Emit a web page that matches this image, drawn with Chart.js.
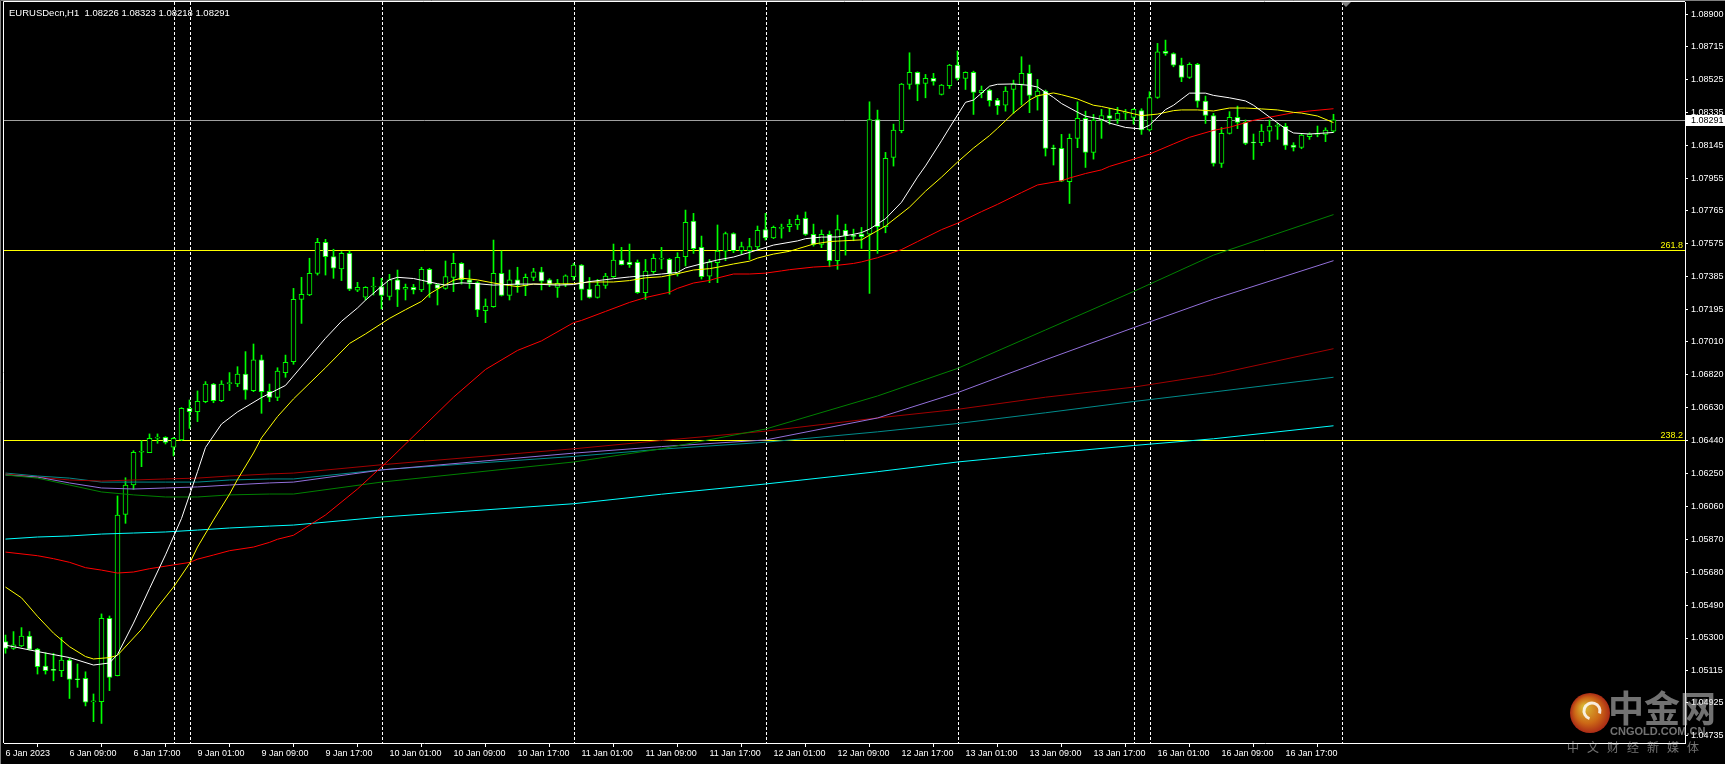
<!DOCTYPE html>
<html><head><meta charset="utf-8">
<script src="https://cdn.jsdelivr.net/npm/chart.js@4.4.0/dist/chart.umd.min.js"></script>
<style>html,body{margin:0;padding:0;background:#000;overflow:hidden}canvas{display:block}</style>
</head><body>
<canvas id="c" width="1725" height="764"></canvas>
<script>
// ---------------- DATA ----------------
const symbolTitle = 'EURUSDecn,H1';
// bar index 0 = 6 Jan 2023 01:00, one bar per hour (H1)
const opens = [1.05279,1.05240,1.05254,1.05311,1.05236,1.05138,1.05115,1.05111,1.05173,1.05063,
1.05067,1.04931,1.04932,1.05414,1.05083,1.06014,1.06183,1.06372,1.06370,1.06454,
1.06458,1.06401,1.06443,1.06626,1.06606,1.06664,1.06766,1.06670,1.06768,1.06766,
1.06824,1.06728,1.06905,1.06724,1.06689,1.06832,1.06895,1.07255,1.07280,1.07405,
1.07584,1.07501,1.07430,1.07520,1.07307,1.07267,1.07326,1.07328,1.07271,1.07367,
1.07313,1.07324,1.07309,1.07428,1.07340,1.07318,1.07382,1.07463,1.07367,1.07351,
1.07189,1.07213,1.07405,1.07278,1.07367,1.07334,1.07382,1.07413,1.07367,1.07324,
1.07341,1.07385,1.07453,1.07314,1.07266,1.07335,1.07385,1.07482,1.07470,1.07468,
1.07293,1.07414,1.07487,1.07485,1.07401,1.07501,1.07707,1.07555,1.07389,1.07466,
1.07533,1.07635,1.07535,1.07535,1.07558,1.07658,1.07610,1.07664,1.07674,1.07685,
1.07722,1.07630,1.07572,1.07630,1.07478,1.07653,1.07622,1.07631,1.07631,1.08293,
1.07674,1.08074,1.08228,1.08495,1.08565,1.08501,1.08530,1.08438,1.08488,1.08607,
1.08530,1.08565,1.08447,1.08463,1.08405,1.08376,1.08466,1.08495,1.08559,1.08428,
1.08457,1.08128,1.08126,1.07934,1.08184,1.08299,1.08103,1.08290,1.08316,1.08293,
1.08330,1.08305,1.08345,1.08232,1.08420,1.08686,1.08674,1.08607,1.08536,1.08611,
1.08399,1.08316,1.08039,1.08213,1.08305,1.08276,1.08161,1.08159,1.08226,1.08253,
1.08253,1.08145,1.08132,1.08193,1.08207,1.08207,1.08226];
const highs = [1.05317,1.05337,1.05360,1.05337,1.05240,1.05215,1.05211,1.05304,1.05183,1.05150,
1.05105,1.04977,1.05439,1.05427,1.06120,1.06225,1.06381,1.06439,1.06478,1.06478,
1.06462,1.06458,1.06630,1.06674,1.06726,1.06780,1.06770,1.06785,1.06832,1.06866,
1.06953,1.06997,1.06933,1.06766,1.06860,1.06933,1.07318,1.07382,1.07492,1.07607,
1.07601,1.07544,1.07530,1.07534,1.07353,1.07328,1.07382,1.07376,1.07399,1.07424,
1.07343,1.07341,1.07440,1.07434,1.07343,1.07476,1.07520,1.07467,1.07424,1.07357,
1.07257,1.07597,1.07534,1.07424,1.07440,1.07401,1.07434,1.07440,1.07374,1.07370,
1.07396,1.07462,1.07456,1.07381,1.07370,1.07405,1.07574,1.07555,1.07574,1.07482,
1.07485,1.07516,1.07555,1.07491,1.07524,1.07770,1.07751,1.07620,1.07485,1.07684,
1.07643,1.07639,1.07585,1.07607,1.07678,1.07751,1.07678,1.07689,1.07716,1.07741,
1.07759,1.07689,1.07655,1.07649,1.07741,1.07689,1.07660,1.07670,1.08395,1.08347,
1.08103,1.08266,1.08501,1.08678,1.08568,1.08553,1.08559,1.08495,1.08611,1.08688,
1.08568,1.08572,1.08486,1.08468,1.08415,1.08482,1.08520,1.08655,1.08607,1.08524,
1.08463,1.08145,1.08207,1.08209,1.08395,1.08341,1.08322,1.08351,1.08357,1.08363,
1.08351,1.08355,1.08355,1.08453,1.08732,1.08751,1.08678,1.08647,1.08620,1.08617,
1.08428,1.08328,1.08247,1.08338,1.08370,1.08290,1.08209,1.08264,1.08290,1.08270,
1.08270,1.08159,1.08209,1.08216,1.08255,1.08245,1.08323];
const lows = [1.05212,1.05234,1.05250,1.05231,1.05092,1.05092,1.05053,1.05077,1.04951,1.05015,
1.04908,1.04817,1.04807,1.04996,1.05081,1.05962,1.06158,1.06289,1.06370,1.06424,
1.06420,1.06351,1.06439,1.06510,1.06549,1.06658,1.06658,1.06664,1.06728,1.06751,
1.06678,1.06722,1.06597,1.06664,1.06670,1.06805,1.06880,1.07116,1.07276,1.07395,
1.07395,1.07376,1.07363,1.07305,1.07299,1.07251,1.07280,1.07199,1.07251,1.07213,
1.07251,1.07286,1.07299,1.07266,1.07222,1.07313,1.07299,1.07343,1.07318,1.07155,
1.07120,1.07209,1.07274,1.07251,1.07295,1.07276,1.07363,1.07309,1.07328,1.07266,
1.07328,1.07366,1.07251,1.07262,1.07262,1.07318,1.07381,1.07453,1.07439,1.07289,
1.07254,1.07405,1.07430,1.07285,1.07389,1.07447,1.07520,1.07372,1.07351,1.07351,
1.07478,1.07524,1.07516,1.07485,1.07543,1.07597,1.07605,1.07608,1.07645,1.07658,
1.07624,1.07562,1.07553,1.07443,1.07428,1.07510,1.07593,1.07549,1.07289,1.07520,
1.07639,1.08024,1.08216,1.08468,1.08401,1.08418,1.08491,1.08434,1.08472,1.08520,
1.08466,1.08322,1.08418,1.08370,1.08322,1.08341,1.08328,1.08376,1.08332,1.08347,
1.08082,1.08030,1.07934,1.07808,1.08130,1.08016,1.08064,1.08184,1.08266,1.08270,
1.08293,1.08266,1.08207,1.08226,1.08415,1.08663,1.08597,1.08511,1.08530,1.08363,
1.08270,1.08024,1.08016,1.08209,1.08240,1.08147,1.08062,1.08143,1.08165,1.08178,
1.08120,1.08111,1.08124,1.08178,1.08193,1.08165,1.08218];
const closes = [1.05240,1.05260,1.05311,1.05234,1.05134,1.05111,1.05113,1.05173,1.05061,1.05059,
1.04929,1.04932,1.05414,1.05073,1.06010,1.06183,1.06372,1.06374,1.06453,1.06458,
1.06429,1.06453,1.06626,1.06606,1.06666,1.06766,1.06670,1.06766,1.06770,1.06824,
1.06731,1.06905,1.06722,1.06689,1.06841,1.06891,1.07255,1.07284,1.07405,1.07584,
1.07501,1.07434,1.07520,1.07313,1.07324,1.07324,1.07330,1.07278,1.07367,1.07309,
1.07324,1.07309,1.07428,1.07343,1.07318,1.07386,1.07463,1.07367,1.07353,1.07193,
1.07216,1.07405,1.07278,1.07367,1.07338,1.07382,1.07413,1.07359,1.07343,1.07347,
1.07390,1.07453,1.07312,1.07266,1.07337,1.07389,1.07482,1.07455,1.07455,1.07293,
1.07418,1.07491,1.07491,1.07403,1.07497,1.07699,1.07547,1.07385,1.07470,1.07533,
1.07635,1.07535,1.07560,1.07560,1.07653,1.07610,1.07670,1.07668,1.07689,1.07716,
1.07630,1.07572,1.07630,1.07478,1.07658,1.07622,1.07618,1.07616,1.08293,1.07674,
1.08068,1.08232,1.08497,1.08565,1.08495,1.08530,1.08513,1.08491,1.08607,1.08530,
1.08565,1.08449,1.08463,1.08401,1.08372,1.08457,1.08497,1.08559,1.08432,1.08457,
1.08126,1.08124,1.07937,1.08184,1.08299,1.08103,1.08290,1.08316,1.08299,1.08328,
1.08334,1.08351,1.08232,1.08420,1.08684,1.08674,1.08607,1.08536,1.08611,1.08399,
1.08316,1.08039,1.08213,1.08305,1.08276,1.08155,1.08157,1.08226,1.08255,1.08257,
1.08143,1.08132,1.08203,1.08209,1.08211,1.08232,1.08291];

// moving averages (bar index, value)
const maWhiteBars = [0,4,8,11,13,14,16,18,20,22,24,25,27,29,32,35,40,42,44,45,47,48,49,51,52,54,55,57,59,61,64,66,69,71,73,76,78,80,82,84,85,87,89,91,93,94,96,99,100,102,104,106,107,108,110,112,114,115,117,118,120,121,123,124,126,128,129,131,132,134,135,137,138,140,142,143,145,146,148,150,151,153,155,156,158,160,161,163,165,166];
const maWhite = [1.05259,1.05222,1.05187,1.05144,1.05156,1.05205,1.05386,1.05585,1.05780,1.05990,1.06260,1.06400,1.06535,1.06605,1.06688,1.06758,1.07030,1.07128,1.07205,1.07250,1.07330,1.07368,1.07382,1.07375,1.07365,1.07345,1.07337,1.07350,1.07345,1.07337,1.07343,1.07343,1.07337,1.07340,1.07357,1.07374,1.07384,1.07392,1.07401,1.07410,1.07436,1.07460,1.07482,1.07499,1.07526,1.07540,1.07568,1.07592,1.07605,1.07614,1.07615,1.07630,1.07640,1.07660,1.07720,1.07815,1.07960,1.08025,1.08170,1.08245,1.08392,1.08405,1.08485,1.08496,1.08498,1.08490,1.08480,1.08420,1.08385,1.08335,1.08312,1.08294,1.08272,1.08247,1.08238,1.08260,1.08350,1.08375,1.08445,1.08445,1.08432,1.08418,1.08400,1.08375,1.08307,1.08240,1.08215,1.08209,1.08215,1.08218];
const maYellowBars = [0,2,4,6,8,10,11,13,14,17,19,21,23,24,26,28,29,31,32,34,36,40,43,45,47,48,50,52,53,54,56,57,59,61,63,64,66,68,71,73,76,78,80,82,84,86,88,89,91,93,94,96,98,99,101,103,104,107,108,110,113,115,117,119,121,123,124,126,128,129,131,132,134,136,137,139,141,142,144,146,147,149,151,153,155,157,159,161,162,164,166];
const maYellow = [1.05594,1.05532,1.05425,1.05328,1.05250,1.05193,1.05179,1.05187,1.05200,1.05350,1.05478,1.05594,1.05730,1.05825,1.05981,1.06130,1.06215,1.06368,1.06455,1.06578,1.06680,1.06860,1.07000,1.07055,1.07115,1.07145,1.07195,1.07243,1.07286,1.07314,1.07365,1.07377,1.07367,1.07349,1.07335,1.07328,1.07343,1.07343,1.07345,1.07355,1.07355,1.07363,1.07379,1.07385,1.07403,1.07424,1.07432,1.07440,1.07459,1.07475,1.07493,1.07516,1.07532,1.07546,1.07574,1.07588,1.07591,1.07598,1.07625,1.07678,1.07787,1.07879,1.07960,1.08047,1.08128,1.08200,1.08242,1.08330,1.08405,1.08430,1.08446,1.08436,1.08411,1.08375,1.08368,1.08348,1.08326,1.08315,1.08324,1.08344,1.08348,1.08348,1.08342,1.08359,1.08359,1.08354,1.08348,1.08334,1.08330,1.08313,1.08275];
const maRedBars = [0,4,6,8,10,12,14,16,18,21,23,24,26,28,31,33,34,36,40,44,48,52,56,60,64,67,71,72,75,78,80,83,84,86,88,89,91,93,95,97,98,101,103,106,107,109,112,114,117,119,122,124,127,129,132,133,135,137,138,141,143,146,148,151,153,156,158,161,163,166];
const maRed = [1.05796,1.05775,1.05758,1.05737,1.05706,1.05692,1.05675,1.05681,1.05700,1.05722,1.05736,1.05755,1.05779,1.05804,1.05825,1.05852,1.05870,1.05893,1.06010,1.06160,1.06330,1.06510,1.06690,1.06850,1.06960,1.07015,1.07120,1.07133,1.07185,1.07237,1.07265,1.07296,1.07318,1.07349,1.07364,1.07378,1.07401,1.07401,1.07406,1.07419,1.07426,1.07441,1.07446,1.07462,1.07471,1.07495,1.07542,1.07588,1.07657,1.07694,1.07761,1.07803,1.07871,1.07915,1.07939,1.07955,1.07981,1.08002,1.08022,1.08064,1.08093,1.08152,1.08190,1.08230,1.08248,1.08288,1.08306,1.08332,1.08342,1.08355];
const slowBars = [0,4,8,12,16,20,24,28,33,36,47,71,82,95,109,119,130,141,151,166];
const maGreen    = [1.06241,1.06223,1.06183,1.06143,1.06126,1.06114,1.06114,1.06126,1.06131,1.06131,1.06200,1.06316,1.06392,1.06506,1.06697,1.06856,1.07078,1.07300,1.07510,1.07744];
const maLavender = [1.06241,1.06229,1.06195,1.06166,1.06160,1.06166,1.06172,1.06183,1.06195,1.06200,1.06270,1.06367,1.06405,1.06443,1.06570,1.06716,1.06906,1.07091,1.07256,1.07478];
const maMaroon   = [1.06247,1.06229,1.06212,1.06206,1.06212,1.06218,1.06223,1.06235,1.06247,1.06252,1.06300,1.06392,1.06440,1.06494,1.06570,1.06620,1.06690,1.06748,1.06820,1.06970];
const maTeal     = [1.06252,1.06235,1.06223,1.06200,1.06200,1.06200,1.06200,1.06212,1.06218,1.06218,1.06271,1.06348,1.06390,1.06430,1.06490,1.06538,1.06600,1.06665,1.06720,1.06805];
const maCyan     = [1.05871,1.05883,1.05889,1.05900,1.05906,1.05912,1.05923,1.05935,1.05946,1.05952,1.05998,1.06075,1.06130,1.06189,1.06260,1.06316,1.06365,1.06411,1.06450,1.06525];

const fibLevels = [{label:'261.8', value:1.07538},{label:'238.2', value:1.06441}];
const separatorBars = [21,23,47,71,95,119,141,143,167];
const xTickBars = [0,8,16,24,32,40,48,56,64,72,80,88,96,104,112,120,128,136,144,152,160];
const xTickLabels = ['6 Jan 2023','6 Jan 09:00','6 Jan 17:00','9 Jan 01:00','9 Jan 09:00','9 Jan 17:00','10 Jan 01:00','10 Jan 09:00','10 Jan 17:00','11 Jan 01:00','11 Jan 09:00','11 Jan 17:00','12 Jan 01:00','12 Jan 09:00','12 Jan 17:00','13 Jan 01:00','13 Jan 09:00','13 Jan 17:00','16 Jan 01:00','16 Jan 09:00','16 Jan 17:00'];
const yTickValues = [1.08900,1.08715,1.08525,1.08335,1.08145,1.07955,1.07765,1.07575,1.07385,1.07195,1.07010,1.06820,1.06630,1.06440,1.06250,1.06060,1.05870,1.05680,1.05490,1.05300,1.05115,1.04925,1.04735];

// ---------------- CHART ----------------
const FONT = 'Liberation Sans';
Chart.defaults.font.family = FONT;
Chart.defaults.font.size = 9;
const last = closes.length - 1;
const bid = closes[last];
const idx = opens.map((_, i) => i);

const line = (label, bars, vals, color) => ({
  type: 'line', label, data: bars.map((b, i) => ({x: b, y: vals[i]})),
  borderColor: color, borderWidth: 1, pointRadius: 0, tension: 0, order: 1, clip: true
});

const overlay = {
  id: 'overlay',
  beforeDatasetsDraw(chart) {
    const {ctx, chartArea: a, scales: {x, y}} = chart;
    ctx.save();
    ctx.beginPath(); ctx.rect(a.left, a.top, a.right - a.left, a.bottom - a.top); ctx.clip();
    ctx.strokeStyle = '#ffffff'; ctx.lineWidth = 1; ctx.setLineDash([3, 2]);
    separatorBars.forEach(b => {
      const px = Math.round(x.getPixelForValue(b)) + 0.5;
      ctx.beginPath(); ctx.moveTo(px, a.top); ctx.lineTo(px, a.bottom); ctx.stroke();
    });
    ctx.setLineDash([]);
    ctx.strokeStyle = '#ffff00';
    fibLevels.forEach(f => {
      const py = Math.round(y.getPixelForValue(f.value)) + 0.5;
      ctx.beginPath(); ctx.moveTo(a.left, py); ctx.lineTo(a.right, py); ctx.stroke();
    });
    ctx.strokeStyle = '#a0a0a0';
    const pb = Math.round(y.getPixelForValue(bid)) + 0.5;
    ctx.beginPath(); ctx.moveTo(a.left, pb); ctx.lineTo(a.right, pb); ctx.stroke();
    ctx.restore();
  },
  afterDraw(chart) {
    const {ctx, chartArea: a, scales: {x, y}} = chart;
    ctx.save();
    ctx.strokeStyle = '#808080'; ctx.lineWidth = 1;
    ctx.beginPath(); ctx.moveTo(0.5, 764); ctx.lineTo(0.5, 0.5); ctx.lineTo(1725, 0.5); ctx.stroke();
    ctx.strokeStyle = '#ffffff';
    ctx.beginPath(); ctx.moveTo(a.left - 0.5, a.bottom); ctx.lineTo(a.left - 0.5, a.top - 0.5); ctx.lineTo(a.right, a.top - 0.5); ctx.stroke();
    ctx.font = '9px ' + FONT; ctx.fillStyle = '#ffff00'; ctx.textAlign = 'right'; ctx.textBaseline = 'bottom';
    fibLevels.forEach(f => {
      const py = Math.round(y.getPixelForValue(f.value));
      ctx.fillText(f.label, a.right - 2, py);
    });
    const pb = Math.round(y.getPixelForValue(bid));
    ctx.fillStyle = '#ffffff'; ctx.fillRect(a.right + 1, pb - 5, 1725 - a.right - 1, 11);
    ctx.fillStyle = '#000000'; ctx.textAlign = 'left'; ctx.textBaseline = 'middle';
    ctx.fillText(bid.toFixed(5), a.right + 6, pb + 0.5);
    ctx.fillStyle = '#ffffff'; ctx.font = '9.5px ' + FONT;
    ctx.fillText(`${symbolTitle}  ${opens[last].toFixed(5)} ${highs[last].toFixed(5)} ${lows[last].toFixed(5)} ${closes[last].toFixed(5)}`, 9, 13);
    const sx = Math.round(x.getPixelForValue(167.5));
    ctx.fillStyle = '#808080';
    ctx.beginPath(); ctx.moveTo(sx - 5, a.top); ctx.lineTo(sx + 5, a.top); ctx.lineTo(sx, a.top + 5); ctx.closePath(); ctx.fill();
    const cx = 1590, cy = 713;
    const g = ctx.createRadialGradient(cx - 6, cy - 6, 2, cx, cy, 20);
    g.addColorStop(0, '#ffd23a'); g.addColorStop(0.6, '#f07a1a'); g.addColorStop(1, '#c8321a');
    ctx.globalAlpha = 0.85; ctx.fillStyle = g;
    ctx.beginPath(); ctx.arc(cx, cy, 20, 0, Math.PI * 2); ctx.fill();
    ctx.strokeStyle = '#ffffff'; ctx.lineWidth = 3;
    ctx.beginPath(); ctx.arc(cx + 2, cy - 2, 8, Math.PI * 0.6, Math.PI * 2.1); ctx.stroke();
    ctx.globalAlpha = 0.55; ctx.fillStyle = '#d0d0d0';
    ctx.font = 'bold 36px "Noto Sans CJK SC"'; ctx.textAlign = 'left'; ctx.textBaseline = 'middle';
    ctx.fillText('中金网', 1608, 708);
    ctx.font = 'bold 11px ' + FONT;
    ctx.fillText('CNGOLD.COM.CN', 1610, 732);
    ctx.font = '12px "Noto Sans CJK SC"';
    '中文财经新媒体'.split('').forEach((ch, i) => ctx.fillText(ch, 1567 + i * 20, 747));
    ctx.restore();
  }
};

new Chart(document.getElementById('c'), {
  type: 'bar',
  data: {
    datasets: [
      line('MA fast', maWhiteBars, maWhite, '#ffffff'),
      line('MA 2', maYellowBars, maYellow, '#ffff00'),
      line('MA 3', maRedBars, maRed, '#ff0000'),
      line('MA 4', slowBars, maGreen, '#008000'),
      line('MA 5', slowBars, maLavender, '#9370db'),
      line('MA 6', slowBars, maMaroon, '#a00000'),
      line('MA 7', slowBars, maTeal, '#008b8b'),
      line('MA 8', slowBars, maCyan, '#00ffff'),
      {
        label: 'body', order: 2, grouped: false, barThickness: 5, minBarLength: 1,
        data: idx.map(i => ({x: i, y: [opens[i], closes[i]]})),
        backgroundColor: ctx => closes[ctx.dataIndex] > opens[ctx.dataIndex] ? '#000000' : '#ffffff',
        borderColor: '#00ff00', borderWidth: 1, borderSkipped: false
      },
      {
        label: 'wick', order: 3, grouped: false, barThickness: 1,
        data: idx.map(i => ({x: i, y: [lows[i], highs[i]]})),
        backgroundColor: '#00ff00', borderWidth: 0
      }
    ]
  },
  options: {
    responsive: false, animation: false, devicePixelRatio: 1,
    layout: {padding: {left: 4, top: 2, right: 0, bottom: 0}},
    plugins: {legend: {display: false}, tooltip: {enabled: false}},
    scales: {
      x: {
        type: 'linear', min: -0.1875, max: 209.9375, offset: false, position: 'bottom',
        afterBuildTicks: s => { s.ticks = xTickBars.map(v => ({value: v})); },
        afterFit: s => { s.height = 21; s.paddingLeft = 0; s.paddingRight = 0; },
        ticks: {color: '#ffffff', align: 'start', maxRotation: 0, autoSkip: false, padding: 1,
          callback: v => xTickLabels[xTickBars.indexOf(v)]},
        grid: {display: true, drawOnChartArea: false, tickLength: 4, color: '#ffffff'},
        border: {display: true, color: '#ffffff', width: 1}
      },
      y: {
        type: 'linear', position: 'right', min: 1.04694, max: 1.08971,
        afterBuildTicks: s => { s.ticks = yTickValues.map(v => ({value: v})); },
        afterFit: s => { s.width = 40; s.paddingTop = 0; s.paddingBottom = 0; },
        ticks: {color: '#ffffff', padding: 3, autoSkip: false, callback: v => v.toFixed(5)},
        grid: {display: true, drawOnChartArea: false, tickLength: 3, color: '#ffffff'},
        border: {display: true, color: '#ffffff', width: 1}
      }
    }
  },
  plugins: [overlay]
});
</script>
</body></html>
